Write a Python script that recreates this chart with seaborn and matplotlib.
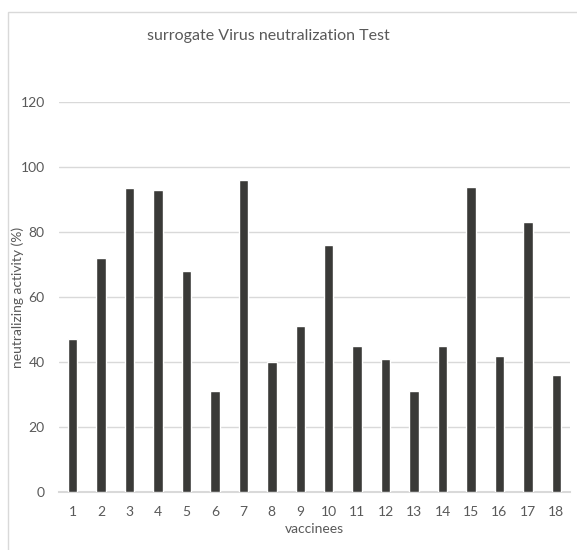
import matplotlib
matplotlib.use("Agg")
import matplotlib.pyplot as plt
import pandas as pd
import seaborn as sns
from matplotlib.patches import Rectangle

# data
vaccinees = [str(i) for i in range(1, 19)]
activity = [47, 72, 93.5, 93, 68, 31, 96, 40, 51, 76, 45, 41, 31, 45, 94, 42, 83, 36]

df = pd.DataFrame({"vaccinees": vaccinees, "activity": activity})

sns.set_style("white")
plt.rcParams["font.family"] = ["Lato", "DejaVu Sans"]
text_col = "#595959"

fig = plt.figure(figsize=(5.77, 5.5), dpi=100)
# light chart border like the spreadsheet frame
fig.patches.append(Rectangle((8 / 577, -0.1), 1.2, 1 - 12 / 550 + 0.1, transform=fig.transFigure,
                             fill=False, edgecolor="#d9d9d9", linewidth=1))

ax = fig.add_axes([0.1014, 0.1055, 0.8873, 0.7085])
sns.barplot(data=df, x="vaccinees", y="activity", color="#3a3a38", width=0.33,
            saturation=1, ax=ax, zorder=3)

ax.set_ylim(0, 120)
ax.set_yticks(range(0, 121, 20))
ax.yaxis.grid(True, color="#d9d9d9", linewidth=1, zorder=0)
for s in ["top", "right", "left"]:
    ax.spines[s].set_visible(False)
ax.spines["bottom"].set_color("#d9d9d9")
ax.spines["bottom"].set_linewidth(1.5)
ax.tick_params(axis="both", length=0, labelsize=10, colors=text_col, pad=10)

ax.set_xlabel("vaccinees", fontsize=10, color=text_col, labelpad=4)
ax.set_ylabel("")
fig.text(18 / 577, 1 - 297 / 550, "neutralizing activity (%)", rotation=90, ha="center",
         va="center", fontsize=10, color=text_col)
fig.text(268 / 577, 1 - 36 / 550, "surrogate Virus neutralization Test", ha="center", va="center",
         fontsize=11.5, color=text_col)

fig.savefig("out.png", dpi=100)
